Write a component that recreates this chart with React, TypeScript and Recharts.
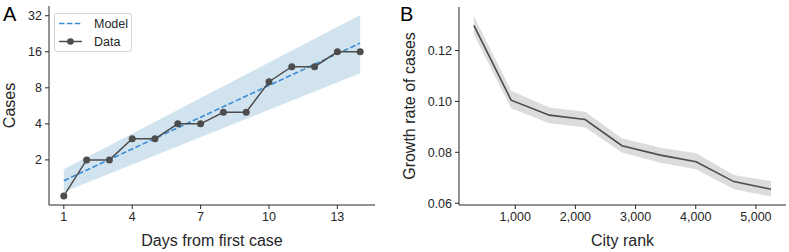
import React from 'react'
import { ComposedChart, Line, Area, XAxis, YAxis } from 'recharts'

// ── Panel A data ──────────────────────────────────────
const days = [1, 2, 3, 4, 5, 6, 7, 8, 9, 10, 11, 12, 13, 14]
const cases = [1, 2, 2, 3, 3, 4, 4, 5, 5, 9, 12, 12, 16, 16]
const modelDays = [1, 14]
const modelCases = [1.34, 18.9]
const modelLow = [1.08, 10.6]
const modelHigh = [1.67, 32.4]
const caseTicks = [2, 4, 8, 16, 32]
const dayTicks = [1, 4, 7, 10, 13]

// ── Panel B data ──────────────────────────────────────
const cityRank = [312, 931, 1567, 2162, 2773, 3412, 4006, 4633, 5250]
const growthRate = [0.1299, 0.1005, 0.0946, 0.0929, 0.0826, 0.0789, 0.0763, 0.0685, 0.0655]
const growthLow = [0.1264, 0.0973, 0.0914, 0.0898, 0.0799, 0.0759, 0.0733, 0.0655, 0.0626]
const growthHigh = [0.1335, 0.1042, 0.0976, 0.0959, 0.0855, 0.0818, 0.0796, 0.0711, 0.0687]
const rateTicks = [0.06, 0.08, 0.1, 0.12]
const rankTicks = [1000, 2000, 3000, 4000, 5000]

const caseData = days.map((d, i) => ({ day: d, cases: cases[i] }))
const modelData = modelDays.map((d, i) => ({
  day: d, model: modelCases[i], band: [modelLow[i], modelHigh[i]],
}))
const growthData = cityRank.map((r, i) => ({
  rank: r, rate: growthRate[i], band: [growthLow[i], growthHigh[i]],
}))

const FONT = '"Liberation Sans", Arial, Helvetica, sans-serif'
const INK = '#262626'
const DARK = '#4d4d4d'
const BLUE = '#3a8dd4'

const tick = { fontSize: 12.5, fill: INK, fontFamily: FONT }

const YTitle = (text: string, dx: number) => (props: any) => {
  const { viewBox } = props
  const x = viewBox.x + dx
  const y = viewBox.y + viewBox.height / 2
  return (
    <text x={x} y={y} transform={`rotate(-90, ${x}, ${y})`} textAnchor="middle"
      fontSize={16} fill={INK} fontFamily={FONT}>{text}</text>
  )
}

const XTitle = (text: string) => (props: any) => {
  const { viewBox } = props
  return (
    <text x={viewBox.x + viewBox.width / 2} y={viewBox.y + 41} textAnchor="middle"
      fontSize={16} fill={INK} fontFamily={FONT}>{text}</text>
  )
}

function LegendBox() {
  return (
    <div style={{
      position: 'absolute', left: 54, top: 13, width: 76, height: 37,
      border: '1px solid #d6d6d6', borderRadius: 3, background: '#fff',
      fontFamily: FONT, fontSize: 12, color: INK,
    }}>
      <svg width={76} height={37} style={{ position: 'absolute', left: 0, top: 0 }}>
        <line x1={4} x2={27} y1={9.5} y2={9.5} stroke={BLUE} strokeWidth={1.5} strokeDasharray="5.5 2.4" />
        <line x1={4} x2={27} y1={27.5} y2={27.5} stroke={DARK} strokeWidth={1.5} />
        <circle cx={15.5} cy={27.5} r={3.3} fill={DARK} />
        <text x={39} y={14} fontSize={12.5} fill={INK} fontFamily={FONT}>Model</text>
        <text x={39} y={32} fontSize={12.5} fill={INK} fontFamily={FONT}>Data</text>
      </svg>
    </div>
  )
}

function PanelLabel({ text, left }: { text: string; left: number }) {
  return (
    <div style={{
      position: 'absolute', left, top: 4, fontSize: 20, lineHeight: '20px',
      fontFamily: FONT, color: '#000',
    }}>{text}</div>
  )
}

export default function App() {
  return (
    <div style={{ position: 'absolute', left: 0, top: 0, width: 789, height: 252, background: '#fff' }}>
      <div style={{ position: 'absolute', left: 0, top: 0 }}>
        <ComposedChart width={390} height={252} margin={{ top: 6, right: 15, bottom: 0, left: 0 }}>
          <XAxis dataKey="day" type="number" domain={[0.35, 14.65]} ticks={dayTicks}
            allowDataOverflow height={47} tick={tick} tickSize={4} tickMargin={3}
            stroke={INK} label={{ content: XTitle('Days from first case') }} />
          <YAxis type="number" scale="log" domain={[0.84, 38.6]} ticks={caseTicks}
            allowDataOverflow width={49} tick={tick} tickSize={4} tickMargin={3}
            stroke={INK} label={{ content: YTitle('Cases', 15) }} />
          <Area data={modelData} dataKey="band" type="linear" stroke="none"
            fill="#d2e3f0" fillOpacity={1} isAnimationActive={false} />
          <Line data={modelData} dataKey="model" type="linear" stroke={BLUE}
            strokeWidth={1.6} strokeDasharray="5.5 2.4" dot={false} isAnimationActive={false} />
          <Line data={caseData} dataKey="cases" type="linear" stroke={DARK} strokeWidth={1.5}
            dot={{ r: 3.5, fill: DARK, stroke: DARK, strokeWidth: 0 }} isAnimationActive={false} />
        </ComposedChart>
      </div>
      <div style={{ position: 'absolute', left: 390, top: 0 }}>
        <ComposedChart width={399} height={252} data={growthData}
          margin={{ top: 7, right: 3, bottom: 0, left: 0 }}>
          <XAxis dataKey="rank" type="number" domain={[65, 5500]} ticks={rankTicks}
            allowDataOverflow height={47} tick={tick} tickSize={4} tickMargin={3}
            tickFormatter={(v: number) => v.toLocaleString('en-US')}
            stroke={INK} label={{ content: XTitle('City rank') }} />
          <YAxis type="number" domain={[0.0593, 0.1371]} ticks={rateTicks}
            allowDataOverflow width={69} tick={tick} tickSize={4} tickMargin={3}
            tickFormatter={(v: number) => v.toFixed(2)}
            stroke={INK} label={{ content: YTitle('Growth rate of cases', 25) }} />
          <Area dataKey="band" type="linear" stroke="none" fill="#dcdcdc" fillOpacity={1}
            isAnimationActive={false} />
          <Line dataKey="rate" type="linear" stroke={DARK} strokeWidth={1.6} dot={false}
            isAnimationActive={false} />
        </ComposedChart>
      </div>
      <LegendBox />
      <PanelLabel text="A" left={3} />
      <PanelLabel text="B" left={400} />
    </div>
  )
}
